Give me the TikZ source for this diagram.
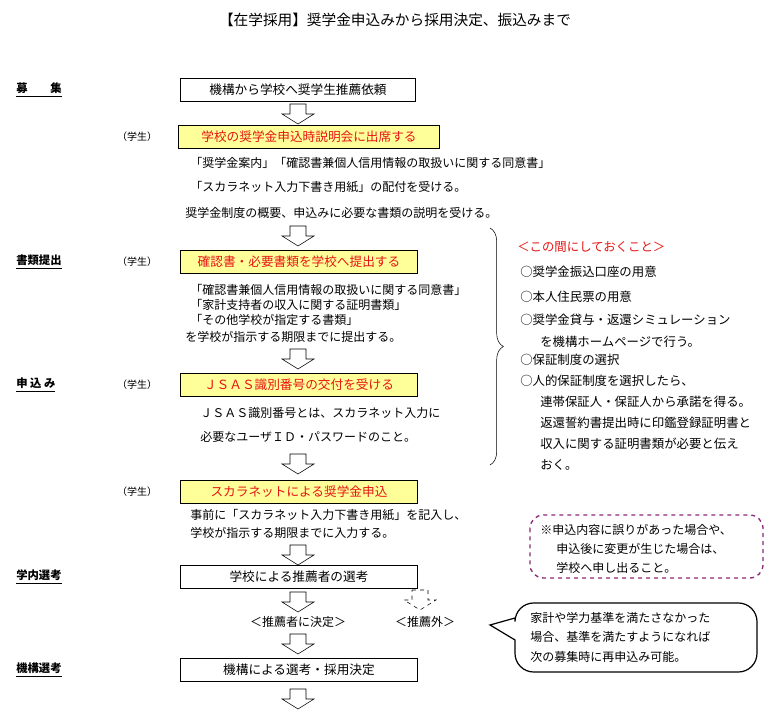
\documentclass[tikz,border=0pt]{standalone}
\usepackage{fontspec}
\setmainfont{Noto Sans CJK JP}
\usetikzlibrary{positioning,decorations.pathreplacing,shapes.callouts}
\definecolor{boxyellow}{RGB}{255,255,153}
\definecolor{redtext}{RGB}{230,20,20}
\definecolor{dashpurple}{RGB}{140,40,120}
\tikzset{
  flowbox/.style = {draw, line width=1.2pt, minimum height=17pt, inner sep=2pt, font=\fontsize{9.5}{11}\selectfont},
  stud/.style  = {flowbox, fill=boxyellow, text=redtext},
  txt/.style   = {anchor=west, inner sep=0pt, font=\fontsize{9}{11}\selectfont},
  side/.style  = {anchor=west, inner sep=0pt, font=\fontsize{9.3}{11}\selectfont},
  stage/.style = {anchor=west, inner sep=0pt, font=\fontsize{8.5}{10}\selectfont\bfseries},
  who/.style   = {anchor=center, inner sep=0pt, font=\fontsize{7.5}{9}\selectfont},
}
% hollow block arrow, top at (#2,#3)
\newcommand{\downarrowat}[3][]{%
  \draw[#1] (#2,#3) ++(-8,0) -- ++(16,0) -- ++(0,10) -- ++(8,0) -- ++(-16,10)
    -- ++(-16,-10) -- ++(8,0) -- cycle;}
\begin{document}
\begin{tikzpicture}[x=0.75pt,y=-0.75pt]
  \useasboundingbox (0,0) rectangle (776,713);

  % Titel
  \node (title) at (395,20) [font=\fontsize{11}{13}\selectfont] {【在学採用】奨学金申込みから採用決定、振込みまで};

  % Stufen links
  \node (s1) at (16,90)  [stage] {\underline{募　　集}};
  \node (s2) at (16,262) [stage] {\underline{書類提出}};
  \node (s3) at (16,385) [stage] {\underline{申 込 み}};
  \node (s4) at (16,577) [stage] {\underline{学内選考}};
  \node (s5) at (16,670) [stage] {\underline{機構選考}};

  % Kästen
  \node (b1) at (298,90)  [flowbox, minimum width=176pt] {機構から学校へ奨学生推薦依頼};
  \node (b2) at (309,137) [stud, minimum width=196pt] {学校の奨学金申込時説明会に出席する};
  \node (b3) at (299,262) [stud, minimum width=178pt] {確認書・必要書類を学校へ提出する};
  \node (b4) at (299,385) [stud, minimum width=178pt] {ＪＳＡＳ識別番号の交付を受ける};
  \node (b5) at (299,492) [stud, minimum width=178pt] {スカラネットによる奨学金申込};
  \node (b6) at (299,577) [flowbox, minimum width=178pt] {学校による推薦者の選考};
  \node (b7) at (299,670) [flowbox, minimum width=178pt] {機構による選考・採用決定};

  \foreach \y in {137,262,385,492}
    \node at (137,\y) [who] {（学生）};

  % Pfeile
  \foreach \y in {104,226,349,454,545,592,634,689}{
    \downarrowat{298}{\y}
  }
  \downarrowat[dashed]{420}{590}

  % Erläuterungen
  \node (t1) at (190,163) [txt] {「奨学金案内」「確認書兼個人信用情報の取扱いに関する同意書」};
  \node (t2) at (190,187) [txt] {「スカラネット入力下書き用紙」の配付を受ける。};
  \node (t3) at (185,213) [txt] {奨学金制度の概要、申込みに必要な書類の説明を受ける。};
  \node (t4) at (190,290) [txt] {「確認書兼個人信用情報の取扱いに関する同意書」};
  \node (t5) at (190,305) [txt] {「家計支持者の収入に関する証明書類」};
  \node (t6) at (190,320) [txt] {「その他学校が指定する書類」};
  \node (t7) at (185,337) [txt] {を学校が指示する期限までに提出する。};
  \node (t8) at (200,413) [txt] {ＪＳＡＳ識別番号とは、スカラネット入力に};
  \node (t9) at (200,437) [txt] {必要なユーザＩＤ・パスワードのこと。};
  \node (t10) at (190,515) [txt] {事前に「スカラネット入力下書き用紙」を記入し、};
  \node (t11) at (190,533) [txt] {学校が指示する期限までに入力する。};
  \node (r1) at (298,622) [txt, anchor=center] {＜推薦者に決定＞};
  \node (r2) at (425,622) [txt, anchor=center] {＜推薦外＞};

  % Klammer und Liste
  \draw[decorate, decoration={brace, amplitude=10pt}] (490,228) -- (490,465);
  \node (h) at (517,247) [side, text=redtext] {＜この間にしておくこと＞};
  \node (l1) at (520,272) [side] {○奨学金振込口座の用意};
  \node (l2) at (520,297) [side] {○本人住民票の用意};
  \node (l3) at (520,320) [side] {○奨学金貸与・返還シミュレーション};
  \node (l4) at (540,342) [side] {を機構ホームページで行う。};
  \node (l5) at (520,360) [side] {○保証制度の選択};
  \node (l6) at (520,381) [side] {○人的保証制度を選択したら、};
  \node (l7) at (540,402) [side] {連帯保証人・保証人から承諾を得る。};
  \node (l8) at (540,423) [side] {返還誓約書提出時に印鑑登録証明書と};
  \node (l9) at (540,444) [side] {収入に関する証明書類が必要と伝え};
  \node (l10) at (540,465) [side] {おく。};

  % Hinweis
  \draw[dashpurple, dashed, line width=1pt, rounded corners=10pt] (530,515) rectangle (763,578);
  \node (n1) at (540,530) [txt] {※申込内容に誤りがあった場合や、};
  \node (n2) at (556,549) [txt] {申込後に変更が生じた場合は、};
  \node (n3) at (556,568) [txt] {学校へ申し出ること。};

  % Sprechblase
  \draw[line width=0.9pt, rounded corners=14pt] (515,603) -- (757,603) -- (757,672) -- (515,672)
    [sharp corners] -- (515,640) -- (490,625) -- (515,618) [rounded corners=14pt] -- cycle;
  \node (c1) at (530,618) [txt] {家計や学力基準を満たさなかった};
  \node (c2) at (530,637) [txt] {場合、基準を満たすようになれば};
  \node (c3) at (530,657) [txt] {次の募集時に再申込み可能。};
\end{tikzpicture}
\end{document}
